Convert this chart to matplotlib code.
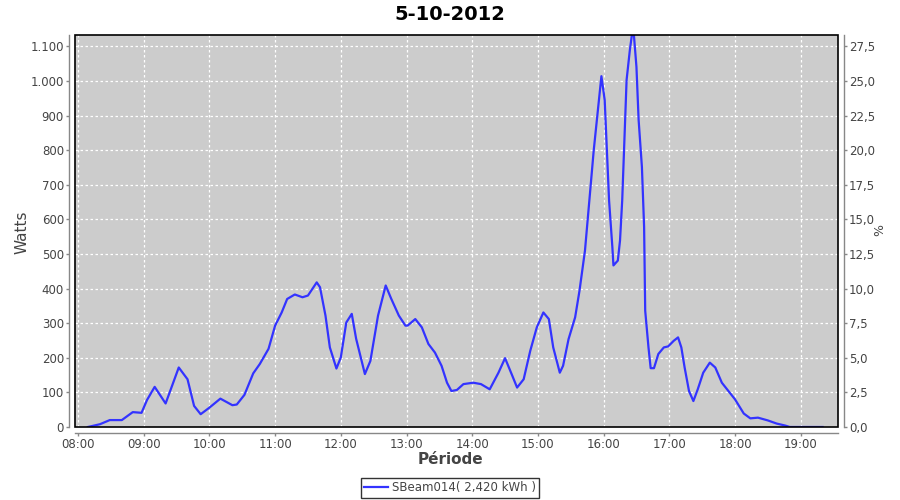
"""Puissance SBeam014 - courbe journaliere"""
import matplotlib
matplotlib.use("Agg")
import matplotlib.pyplot as plt
from matplotlib.ticker import FuncFormatter, MultipleLocator
from matplotlib.patches import Rectangle

titre = "5-10-2012"
serie = "SBeam014( 2,420 kWh )"

heures = ["08:09", "08:20", "08:29", "08:40", "08:50", "08:58", "09:03", "09:10",
          "09:20", "09:32", "09:40", "09:46", "09:52", "10:00", "10:10", "10:21",
          "10:25", "10:32", "10:40", "10:46", "10:54", "11:00", "11:06", "11:11",
          "11:18", "11:25", "11:30", "11:38", "11:41", "11:46", "11:50", "11:56",
          "12:00", "12:05", "12:10", "12:14", "12:22", "12:27", "12:34", "12:41",
          "12:46", "12:53", "12:59", "13:01", "13:08", "13:14", "13:20", "13:26",
          "13:32", "13:37", "13:41", "13:46", "13:52", "14:01", "14:08", "14:16",
          "14:24", "14:30", "14:36", "14:41", "14:47", "14:53", "14:59", "15:05",
          "15:10", "15:14", "15:20", "15:23", "15:28", "15:34", "15:38", "15:43",
          "15:51", "15:58", "16:01", "16:03", "16:05", "16:08", "16:09", "16:13",
          "16:15", "16:17", "16:19", "16:21", "16:24", "16:27", "16:30", "16:32",
          "16:35", "16:37", "16:38", "16:41", "16:43", "16:46", "16:50", "16:55",
          "16:59", "17:04", "17:08", "17:11", "17:14", "17:18", "17:22", "17:26",
          "17:31", "17:37", "17:42", "17:48", "17:54", "18:00", "18:08", "18:14",
          "18:21", "18:30", "18:38", "18:46", "18:50", "19:20"]
watts = [0, 8, 20, 20, 43, 41, 78, 116,
         68, 172, 138, 61, 37, 56, 82, 63,
         65, 93, 155, 182, 226, 293, 331, 370,
         383, 375, 380, 418, 404, 322, 230, 169,
         201, 302, 327, 255, 153, 191, 322, 409,
         371, 322, 293, 293, 312, 288, 240, 215,
         177, 128, 104, 107, 124, 128, 124, 109,
         157, 199, 153, 114, 138, 220, 288, 331,
         312, 230, 157, 177, 254, 317, 394, 510,
         800, 1014, 945, 800, 655, 520, 467, 481,
         539, 655, 829, 1003, 1090, 1160, 1041, 887,
         751, 578, 336, 230, 170, 170, 211, 230,
         233, 249, 259, 230, 172, 104, 75, 109,
         157, 186, 172, 128, 104, 80, 39, 25,
         27, 19, 10, 4, 0, 0]

x = [int(h[:2]) + int(h[3:]) / 60 for h in heures]

fig = plt.figure(figsize=(9, 5), dpi=100)
ax = fig.add_axes([75 / 900, 1 - 427 / 500, 763 / 900, 392 / 500])
ax.set_facecolor('#cccccc')

ax.plot(x, watts, color='#3333ff', linewidth=1.6, zorder=3)

ax.set_xlim(7.954, 19.568)
ax.set_ylim(0, 1133)
ax.set_xticks(range(8, 20))
ax.set_xticklabels([f"{h:02d}:00" for h in range(8, 20)])
ax.yaxis.set_major_locator(MultipleLocator(100))
ax.yaxis.set_major_formatter(FuncFormatter(lambda v, p: f"{int(v):,}".replace(",", ".")))

ax.grid(True, color='white', linestyle=(0, (2, 2)), linewidth=0.9)
ax.set_axisbelow(True)

# axe de droite en %
ax2 = ax.twinx()
ax2.set_ylim(0, 1133 / 40)
ax2.yaxis.set_major_locator(MultipleLocator(2.5))
ax2.yaxis.set_major_formatter(FuncFormatter(lambda v, p: f"{v:.1f}".replace(".", ",")))

for a in (ax, ax2):
    for s in a.spines.values():
        s.set_visible(False)
    a.tick_params(colors='#888888', labelcolor='#444444', labelsize=8.5, length=2, width=1, pad=2)

ax.spines['left'].set_visible(True)
ax.spines['left'].set_position(('outward', 4))
ax.spines['bottom'].set_visible(True)
ax.spines['bottom'].set_position(('outward', 4))
ax2.spines['right'].set_visible(True)
ax2.spines['right'].set_position(('outward', 4))
for s in (ax.spines['left'], ax.spines['bottom'], ax2.spines['right']):
    s.set_color('#888888')
    s.set_linewidth(1)

# bord noir de la zone de trace
ax.add_patch(Rectangle((0, 0), 1, 1, transform=ax.transAxes, fill=False,
                       edgecolor='black', linewidth=1.2, zorder=5, clip_on=False))

fig.text(22 / 900, 1 - 232 / 500, 'Watts', rotation=90, ha='center', va='center',
         fontsize=11, color='#444444')
fig.text(880 / 900, 1 - 230 / 500, '%', rotation=90, ha='center', va='center',
         fontsize=9, color='#444444')
fig.text(0.5, 1 - 460 / 500, 'Période', ha='center', va='center',
         fontsize=11, fontweight='bold', color='#444444')

fig.text(0.5, 1 - 14 / 500, titre, ha='center', va='center', fontsize=14, fontweight='bold')

leg = fig.legend(ax.get_lines(), [serie], loc='center', bbox_to_anchor=(0.5, 1 - 488 / 500),
                 fancybox=False, edgecolor='black', fontsize=8.5, handlelength=2,
                 borderpad=0.3, handletextpad=0.3)
leg.get_frame().set_linewidth(1)
for t in leg.get_texts():
    t.set_color('#444444')

plt.savefig('out.png', dpi=100)
plt.close()
